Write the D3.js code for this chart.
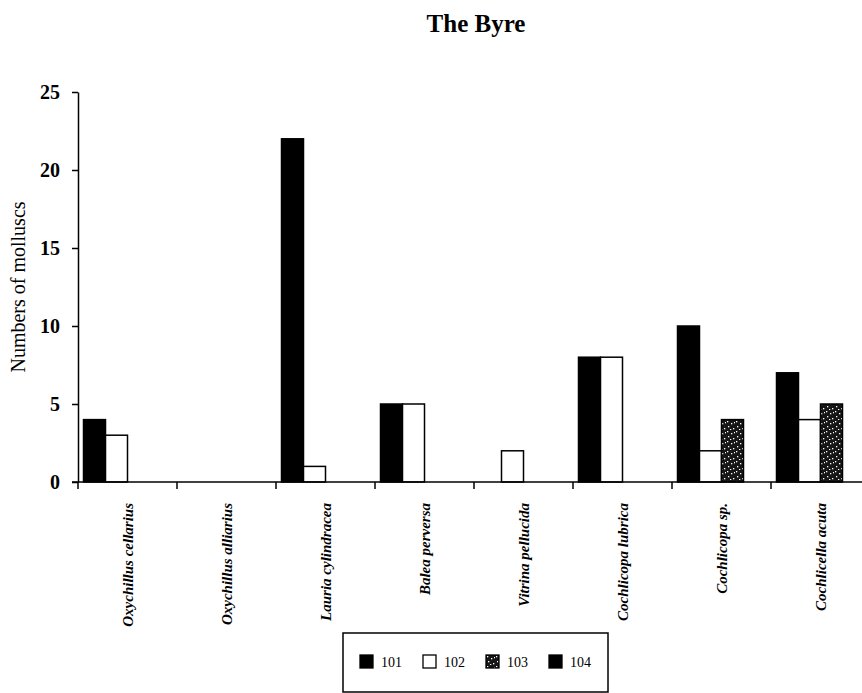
<!DOCTYPE html>
<html>
<head>
<meta charset="utf-8">
<script src="https://cdn.jsdelivr.net/npm/d3@7"></script>
<style>
  body { margin: 0; background: #fff; }
  svg { display: block; font-family: "Liberation Serif", "Times New Roman", serif; }
</style>
</head>
<body>
<svg id="chart"></svg>
<script>
// species along the x axis
var species = ["Oxychillus cellarius", "Oxychillus alliarius", "Lauria cylindracea", "Balea perversa",
               "Vitrina pellucida", "Cochlicopa lubrica", "Cochlicopa sp.", "Cochlicella acuta"];
// sample plots
var plots = ["101", "102", "103", "104"];
// counts per plot, one value per species
var plot101 = [4, 0, 22, 5, 0, 8, 10, 7];
var plot102 = [3, 0, 1, 5, 2, 8, 2, 4];
var plot103 = [0, 0, 0, 0, 0, 0, 4, 5];
var plot104 = [0, 0, 0, 0, 0, 0, 0, 0];
var yTicks = [0, 5, 10, 15, 20, 25];

var counts = [plot101, plot102, plot103, plot104];

var width = 862,
    height = 693;

var svg = d3.select("#chart").attr("width", width).attr("height", height);

// stippled fill for plot 103
var defs = svg.append("defs");
var pat = defs.append("pattern").attr("id", "stipple").attr("patternUnits", "userSpaceOnUse")
  .attr("width", 9).attr("height", 10);
pat.append("rect").attr("width", 9).attr("height", 10).attr("fill", "#161616");
[[1, 1], [5, 3], [2, 6], [7, 8], [4, 9], [8, 2]].forEach(function(p) {
  pat.append("rect").attr("x", p[0]).attr("y", p[1]).attr("width", 1.3).attr("height", 1.3).attr("fill", "#fff");
});

var fills = { "101": "#000", "102": "#fff", "103": "url(#stipple)", "104": "#000" };

var x0 = d3.scaleBand().domain(species).range([78, 870]).padding(0);
var x1 = d3.scaleBand().domain(plots).range([0, x0.bandwidth()]).paddingInner(0).paddingOuter(0.25);
var y = d3.scaleLinear().domain([0, 25]).range([482, 92]);

// title
svg.append("text").text("The Byre").attr("x", 476).attr("y", 32)
  .attr("text-anchor", "middle").style("font-weight", "bold").style("font-size", "25px");

// y axis
var yAxis = svg.append("g").attr("transform", "translate(78,0)")
  .call(d3.axisLeft(y).tickValues(yTicks).tickSize(6).tickPadding(12).tickSizeOuter(0));
yAxis.select(".domain").attr("stroke-width", 1.5);
yAxis.selectAll(".tick line").attr("stroke-width", 1.5);
yAxis.selectAll(".tick text").style("font-family", "Liberation Serif, serif")
  .style("font-size", "20px").style("font-weight", "bold");

svg.append("text").text("Numbers of molluscs")
  .attr("transform", "translate(25,287) rotate(-90)")
  .attr("text-anchor", "middle").style("font-size", "20px");

// bars
var groups = svg.append("g").selectAll("g").data(species).join("g")
  .attr("transform", function(d) { return "translate(" + x0(d) + ",0)"; });

groups.selectAll("rect")
  .data(function(d, i) {
    return plots.map(function(p, j) { return { plot: p, value: counts[j][i] }; });
  })
  .join("rect")
  .filter(function(d) { return d.value > 0; })
  .attr("x", function(d) { return x1(d.plot); })
  .attr("y", function(d) { return y(d.value); })
  .attr("width", x1.bandwidth())
  .attr("height", function(d) { return y(0) - y(d.value); })
  .attr("fill", function(d) { return fills[d.plot]; })
  .attr("stroke", "#000")
  .attr("stroke-width", 1.5);

// x axis: baseline with ticks between groups
svg.append("line").attr("x1", 72).attr("x2", width).attr("y1", y(0)).attr("y2", y(0))
  .attr("stroke", "#000").attr("stroke-width", 1.5);
svg.append("g").selectAll("line").data(species).join("line")
  .attr("x1", function(d) { return x0(d); }).attr("x2", function(d) { return x0(d); })
  .attr("y1", y(0)).attr("y2", y(0) + 7)
  .attr("stroke", "#000").attr("stroke-width", 1.5);

svg.append("g").selectAll("text").data(species).join("text")
  .text(function(d) { return d; })
  .attr("transform", function(d) { return "translate(" + (x0(d) + x0.bandwidth() / 2) + ",503) rotate(-90)"; })
  .attr("dy", "0.35em")
  .attr("text-anchor", "end")
  .style("font-size", "15px").style("font-style", "italic").style("font-weight", "bold");

// legend
var legend = svg.append("g");
legend.append("rect").attr("x", 343).attr("y", 633).attr("width", 265).attr("height", 59)
  .attr("fill", "none").attr("stroke", "#000").attr("stroke-width", 1.5);
var item = legend.selectAll("g").data(plots).join("g")
  .attr("transform", function(d, i) { return "translate(" + (360 + i * 63) + ",655)"; });
item.append("rect").attr("width", 13).attr("height", 13)
  .attr("fill", function(d) { return fills[d]; }).attr("stroke", "#000").attr("stroke-width", 1.3);
item.append("text").text(function(d) { return d; }).attr("x", 21).attr("y", 12)
  .style("font-size", "14px");
</script>
</body>
</html>
